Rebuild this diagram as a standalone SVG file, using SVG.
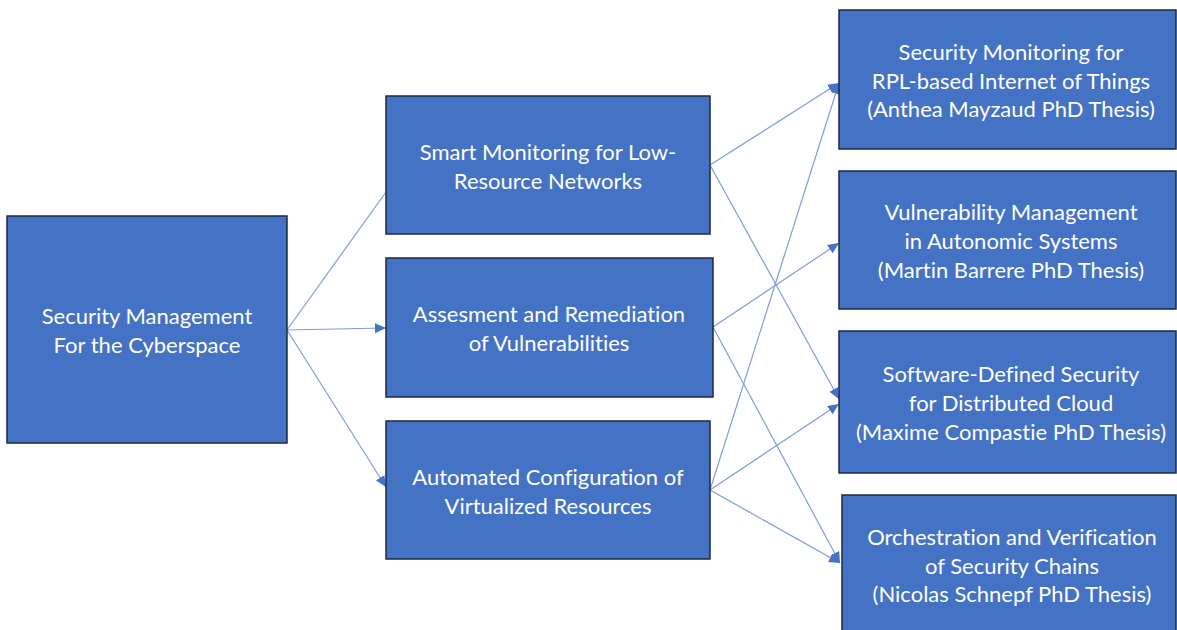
<svg xmlns="http://www.w3.org/2000/svg" width="1177" height="630" viewBox="0 0 1177 630">
<style>
.box{fill:#4472c4;stroke:#1c2a44;stroke-width:1.5}
.t{fill:#fff;font-family:Lato,"Open Sans","Liberation Sans",sans-serif;font-size:22px;text-anchor:middle;font-variant-ligatures:none}
.c{stroke:#7f9dd6;stroke-width:1.2;fill:none}
</style>
<defs>
<marker id="ah" markerUnits="userSpaceOnUse" markerWidth="12" markerHeight="10" refX="11" refY="5" orient="auto">
<path d="M0,0 L11,5 L0,10 z" fill="#4472c4"/>
</marker>
</defs>
<rect width="1177" height="630" fill="#fff"/>
<g id="connectors">
<line class="c" x1="287" y1="330" x2="386" y2="192"/>
<line class="c" x1="287" y1="330" x2="386" y2="328" marker-end="url(#ah)"/>
<line class="c" x1="287" y1="330" x2="386" y2="487" marker-end="url(#ah)"/>
<line class="c" x1="710" y1="165" x2="839" y2="83" marker-end="url(#ah)"/>
<line class="c" x1="710" y1="165" x2="839" y2="399" marker-end="url(#ah)"/>
<line class="c" x1="713" y1="327" x2="839" y2="243" marker-end="url(#ah)"/>
<line class="c" x1="713" y1="327" x2="840" y2="563" marker-end="url(#ah)"/>
<line class="c" x1="710" y1="490" x2="839" y2="83" marker-end="url(#ah)"/>
<line class="c" x1="710" y1="490" x2="839" y2="404" marker-end="url(#ah)"/>
<line class="c" x1="710" y1="490" x2="840" y2="563" marker-end="url(#ah)"/>
</g>
<g id="root">
<rect class="box" x="7" y="216" width="280" height="227"/>
<text class="t" x="147" y="324">Security Management</text>
<text class="t" x="147" y="353">For the Cyberspace</text>
</g>
<g id="m1">
<rect class="box" x="386" y="96" width="324" height="138"/>
<text class="t" x="548" y="160">Smart Monitoring for Low-</text>
<text class="t" x="548" y="189">Resource Networks</text>
</g>
<g id="m2">
<rect class="box" x="386" y="258" width="327" height="139"/>
<text class="t" x="549" y="322">Assesment and Remediation</text>
<text class="t" x="549" y="351">of Vulnerabilities</text>
</g>
<g id="m3">
<rect class="box" x="386" y="421" width="324" height="138"/>
<text class="t" x="548" y="485">Automated Configuration of</text>
<text class="t" x="548" y="514">Virtualized Resources</text>
</g>
<g id="r1">
<rect class="box" x="839" y="10" width="337" height="139"/>
<text class="t" x="1011" y="60">Security Monitoring for</text>
<text class="t" x="1011" y="89">RPL-based Internet of Things</text>
<text class="t" x="1011" y="117">(Anthea Mayzaud PhD Thesis)</text>
</g>
<g id="r2">
<rect class="box" x="839" y="171" width="337" height="138"/>
<text class="t" x="1011" y="220">Vulnerability Management</text>
<text class="t" x="1011" y="249">in Autonomic Systems</text>
<text class="t" x="1011" y="278">(Martin Barrere PhD Thesis)</text>
</g>
<g id="r3">
<rect class="box" x="839" y="331" width="337" height="142"/>
<text class="t" x="1011" y="382">Software-Defined Security</text>
<text class="t" x="1011" y="411">for Distributed Cloud</text>
<text class="t" x="1011" y="440">(Maxime Compastie PhD Thesis)</text>
</g>
<g id="r4">
<rect class="box" x="842" y="495" width="334" height="140"/>
<text class="t" x="1012" y="545">Orchestration and Verification</text>
<text class="t" x="1012" y="574">of Security Chains</text>
<text class="t" x="1012" y="602">(Nicolas Schnepf PhD Thesis)</text>
</g>
</svg>
